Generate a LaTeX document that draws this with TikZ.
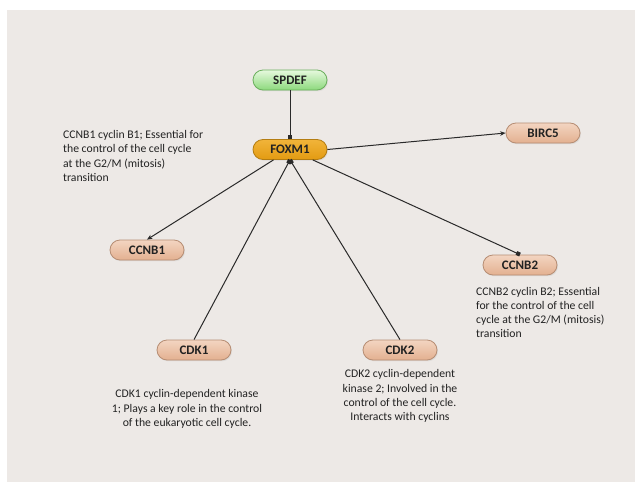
\documentclass[tikz,border=0pt]{standalone}
\usepackage{fontspec}
\setmainfont{Carlito}
\usetikzlibrary{shapes.misc,arrows.meta,shadows}

\definecolor{bgpanel}{HTML}{EDE9E6}
\definecolor{edgecol}{HTML}{2A2A2A}
\definecolor{txtcol}{HTML}{222222}
\definecolor{greentop}{HTML}{E6F9DE}
\definecolor{greenbot}{HTML}{8CD97C}
\definecolor{greenline}{HTML}{6AAE5C}
\definecolor{goldtop}{HTML}{F1B43A}
\definecolor{goldbot}{HTML}{E39B12}
\definecolor{goldline}{HTML}{B47D12}
\definecolor{peachtop}{HTML}{F3D5C1}
\definecolor{peachbot}{HTML}{E3B090}
\definecolor{peachline}{HTML}{B68D73}

\tikzset{
  gene/.style={rounded rectangle, minimum width=74pt, minimum height=20pt,
    inner sep=0pt, line width=0.8pt, text=txtcol,
    font=\fontsize{13}{15}\selectfont\bfseries,
    drop shadow={opacity=0.15, shadow xshift=1pt, shadow yshift=-1.2pt}},
  greengene/.style={gene, draw=greenline, top color=greentop, bottom color=greenbot},
  hubgene/.style={gene, draw=goldline, top color=goldtop, bottom color=goldbot},
  peachgene/.style={gene, draw=peachline, top color=peachtop, bottom color=peachbot},
  note/.style={inner sep=0pt, text=txtcol, font=\fontsize{11.7}{14.2}\selectfont},
  link/.style={draw=edgecol, line width=1pt},
  toarrow/.style={link, -{Stealth[length=5.5pt,width=4.5pt]}},
  tosquare/.style={link, -{Square[length=4pt,width=4pt]}},
}

\begin{document}
\begin{tikzpicture}[x=1pt,y=-1pt]
  % page and grey panel
  \useasboundingbox (0,0) rectangle (635,482);
  \fill[white] (0,0) rectangle (635,482);
  \fill[bgpanel] (7,10) rectangle (635,482);

  % genes
  \node[greengene] (SPDEF) at (290,80)  {SPDEF};
  \node[hubgene]   (FOXM1) at (290,149.5) {FOXM1};
  \node[peachgene] (BIRC5) at (543,133) {BIRC5};
  \node[peachgene] (CCNB1) at (147,250) {CCNB1};
  \node[peachgene] (CCNB2) at (520,265) {CCNB2};
  \node[peachgene] (CDK1)  at (194,350) {CDK1};
  \node[peachgene] (CDK2)  at (400,350) {CDK2};

  % interactions
  \draw[tosquare] (SPDEF.south) -- (FOXM1.north);
  \draw[toarrow]  (FOXM1.east) -- (BIRC5.west);
  \draw[toarrow]  (FOXM1) -- (CCNB1.north);
  \draw[tosquare] (FOXM1) -- (CCNB2.north);
  \draw[tosquare] (CDK1.north) -- (FOXM1.south);
  \draw[tosquare] (CDK2.north) -- (FOXM1.south);

  % annotations
  \node[note, anchor=west, align=left] (noteCCNB1) at (63,156)
    {CCNB1 cyclin B1; Essential for\\the control of the cell cycle\\at the G2/M (mitosis)\\transition};
  \node[note, anchor=west, align=left] (noteCCNB2) at (476,312.5)
    {CCNB2 cyclin B2; Essential\\for the control of the cell\\cycle at the G2/M (mitosis)\\transition};
  \node[note, align=center] (noteCDK1) at (187,409)
    {CDK1 cyclin-dependent kinase\\1; Plays a key role in the control\\of the eukaryotic cell cycle.};
  \node[note, align=center] (noteCDK2) at (400,396)
    {CDK2 cyclin-dependent\\kinase 2; Involved in the\\control of the cell cycle.\\Interacts with cyclins};
\end{tikzpicture}
\end{document}
